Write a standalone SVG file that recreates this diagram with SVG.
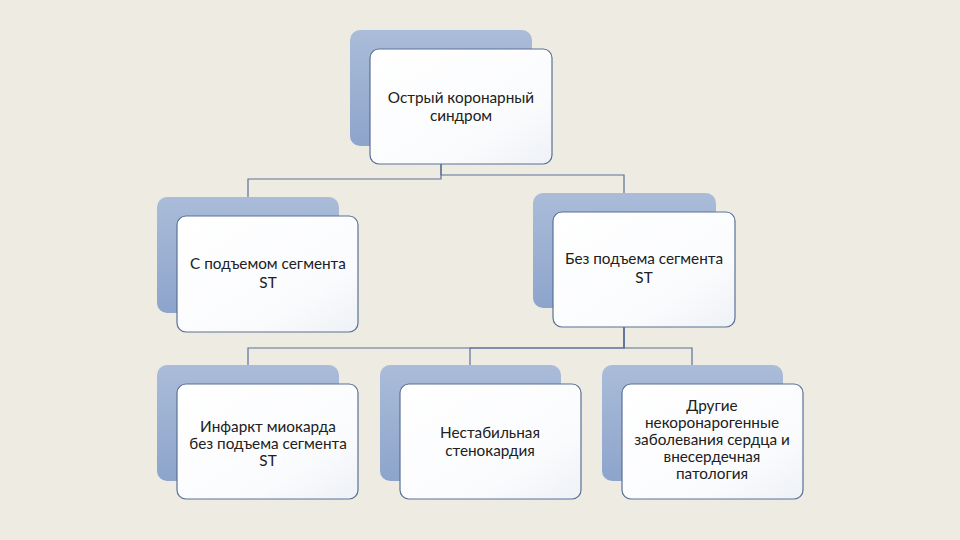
<svg xmlns="http://www.w3.org/2000/svg" width="960" height="540" viewBox="0 0 960 540">
<defs>
<linearGradient id="bk" x1="0" y1="0" x2="0" y2="1">
<stop offset="0" stop-color="#AABCD9"/>
<stop offset="1" stop-color="#8DA4CB"/>
</linearGradient>
<linearGradient id="fr" x1="0" y1="0" x2="1" y2="1">
<stop offset="0" stop-color="#FFFFFF"/>
<stop offset="0.7" stop-color="#FAFBFD"/>
<stop offset="1" stop-color="#EEF1F6"/>
</linearGradient>
<style>
.back{fill:url(#bk);}
.front{fill:url(#fr);stroke:#5A7196;stroke-width:1.2;}
.conn{fill:none;stroke:#5A7196;stroke-width:1.2;}
text{font-family:Lato,"Liberation Sans",sans-serif;font-size:15.3px;fill:#202020;text-anchor:middle;}
</style>
</defs>
<rect width="960" height="540" fill="#EEEBE2"/>
<g id="connectors">
<path class="conn" d="M441,150 V179 H248 V197"/>
<path class="conn" d="M441,150 V175 H624 V193"/>
<path class="conn" d="M624,320 V348 H248 V365"/>
<path class="conn" d="M624,320 V348 H470 V365"/>
<path class="conn" d="M624,320 V348 H692 V365"/>
</g>
<g id="node-top">
<rect class="back" x="350" y="30" width="182" height="116" rx="10"/>
<rect class="front" x="370" y="49" width="182" height="115" rx="9"/>
<text x="461" y="103">Острый коронарный</text>
<text x="461" y="121">синдром</text>
</g>
<g id="node-with-st">
<rect class="back" x="157" y="197" width="182" height="116" rx="10"/>
<rect class="front" x="177" y="216" width="181" height="116" rx="9"/>
<text x="268" y="269">С подъемом сегмента</text>
<text x="268" y="288">ST</text>
</g>
<g id="node-without-st">
<rect class="back" x="533" y="193" width="183" height="115" rx="10"/>
<rect class="front" x="553" y="212" width="182" height="115" rx="9"/>
<text x="644" y="264">Без подъема сегмента</text>
<text x="644" y="283">ST</text>
</g>
<g id="node-mi">
<rect class="back" x="157" y="365" width="182" height="116" rx="10"/>
<rect class="front" x="177" y="384" width="181" height="115" rx="9"/>
<text x="268" y="432">Инфаркт миокарда</text>
<text x="268" y="449">без подъема сегмента</text>
<text x="268" y="466">ST</text>
</g>
<g id="node-angina">
<rect class="back" x="380" y="365" width="181" height="116" rx="10"/>
<rect class="front" x="400" y="384" width="181" height="115" rx="9"/>
<text x="490" y="438">Нестабильная</text>
<text x="490" y="456">стенокардия</text>
</g>
<g id="node-other">
<rect class="back" x="602" y="365" width="181" height="116" rx="10"/>
<rect class="front" x="622" y="384" width="181" height="115" rx="9"/>
<text x="712" y="411">Другие</text>
<text x="712" y="428">некоронарогенные</text>
<text x="712" y="445">заболевания сердца и</text>
<text x="712" y="462">внесердечная</text>
<text x="712" y="479">патология</text>
</g>
</svg>
